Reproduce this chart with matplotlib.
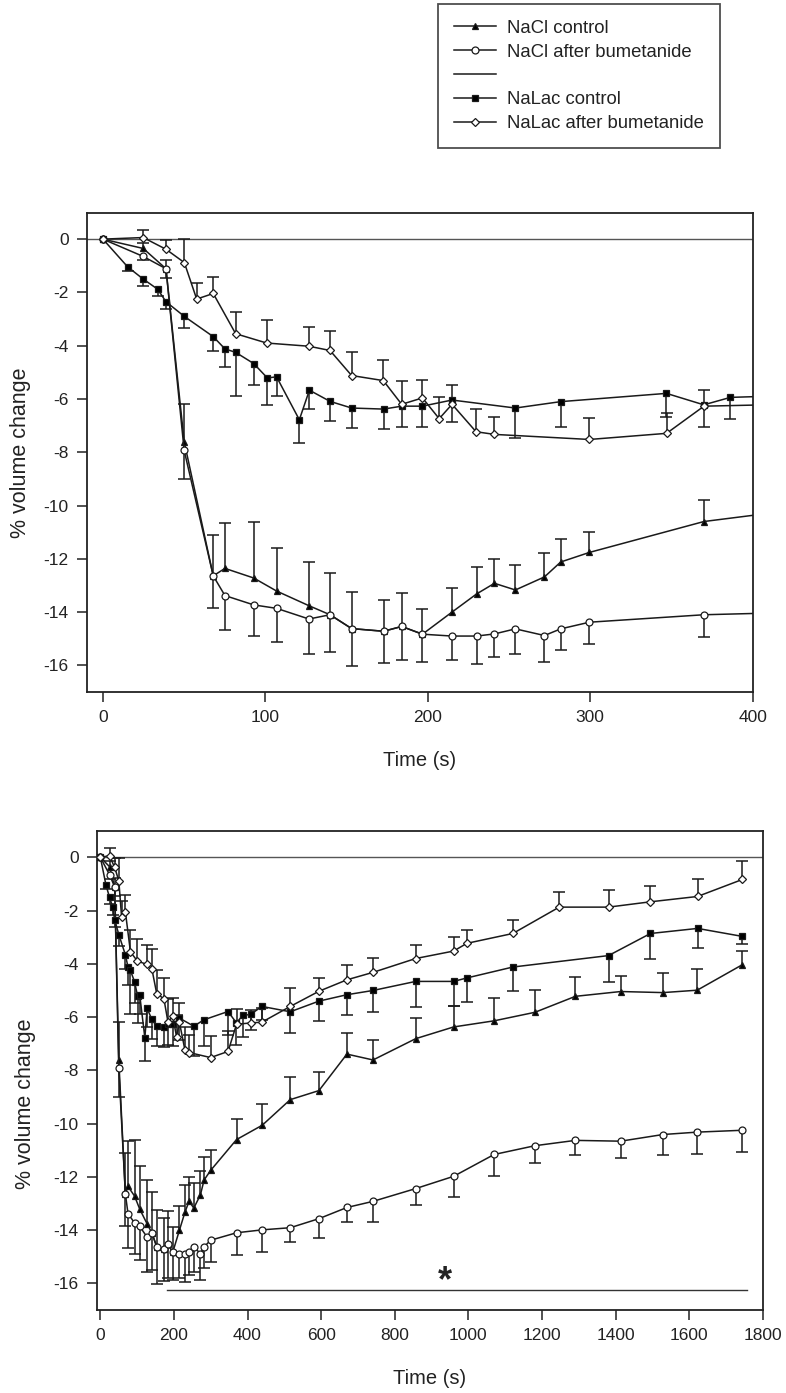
import numpy as np
import matplotlib
matplotlib.use("Agg")
import matplotlib.pyplot as plt
from matplotlib.lines import Line2D

plt.rcParams['font.family'] = ['Liberation Sans', 'DejaVu Sans']

# ---------------- data ----------------
t_nacl = [0, 24.8, 38.8, 50, 67.9, 75.1, 92.8, 106.9, 126.8, 139.8,
          153.1, 172.8, 183.9, 196.7, 214.9, 230, 241, 253.9, 271.8, 281.8,
          299.5, 370, 440, 516, 594, 670, 741, 857, 960, 1070,
          1181, 1291, 1414, 1529, 1622, 1745]
nacl_ctrl = [0, -0.35, -1.11, -7.6, -12.64, -12.36, -12.72, -13.21, -13.76, -14.1,
             -14.62, -14.72, -14.54, -14.83, -14.0, -13.32, -12.92, -13.17, -12.68, -12.12,
             -11.76, -10.6, -10.06, -9.1, -8.76, -7.39, -7.61, -6.81, -6.37, -6.14,
             -5.82, -5.22, -5.04, -5.08, -4.99, -4.03]
nacl_ctrl_err = [0, 0.2, 0.34, 1.42, 1.54, 1.69, 2.11, 1.61, 1.64, 1.55,
                 1.39, 1.19, 1.26, 0.96, 0.9, 1.02, 0.9, 0.94, 0.9, 0.86,
                 0.76, 0.79, 0.81, 0.85, 0.7, 0.78, 0.76, 0.78, 0.78, 0.84,
                 0.83, 0.74, 0.6, 0.74, 0.8, 0.53]
nacl_bum = [0, -0.65, -1.11, -7.93, -12.64, -13.38, -13.73, -13.86, -14.26, -14.1,
            -14.62, -14.72, -14.54, -14.83, -14.9, -14.9, -14.82, -14.63, -14.88, -14.63,
            -14.38, -14.1, -13.99, -13.91, -13.57, -13.15, -12.92, -12.44, -11.98, -11.16,
            -10.83, -10.63, -10.66, -10.41, -10.32, -10.25]
nacl_bum_err = [0, 0.15, 0.34, 1.06, 1.22, 1.31, 1.15, 1.25, 1.3, 1.4,
                1.4, 1.2, 1.25, 1.05, 0.9, 1.05, 0.85, 0.95, 1.0, 0.8,
                0.8, 0.85, 0.84, 0.54, 0.73, 0.56, 0.79, 0.61, 0.79, 0.81,
                0.65, 0.56, 0.65, 0.78, 0.84, 0.81]

t_lac_ctrl = [0, 15.2, 24.8, 33.7, 38.8, 50.1, 67.9, 75.1, 81.7, 92.8,
              101.2, 106.9, 120.9, 127.1, 139.8, 153.1, 172.8, 183.9, 196.7, 214.9,
              253.9, 281.8, 346.9, 369.9, 386.3, 408, 439, 516, 594, 670,
              741, 857, 960, 996, 1121, 1381, 1495, 1623, 1745]
lac_ctrl = [0, -1.04, -1.5, -1.88, -2.35, -2.9, -3.66, -4.12, -4.25, -4.67,
            -5.21, -5.17, -6.78, -5.67, -6.09, -6.34, -6.38, -6.27, -6.27, -6.04,
            -6.34, -6.1, -5.79, -6.22, -5.94, -5.9, -5.6, -5.8, -5.4, -5.16,
            -5.0, -4.66, -4.66, -4.53, -4.12, -3.69, -2.86, -2.67, -2.97]
lac_ctrl_err = [0, 0.16, 0.25, 0.27, 0.27, 0.44, 0.55, 0.67, 1.65, 0.79,
                1.03, 0.73, 0.86, 0.72, 0.75, 0.76, 0.76, 0.79, 0.8, 0.82,
                1.11, 0.97, 0.87, 0.82, 0.8, 0.6, 0.5, 0.8, 0.76, 0.75,
                0.79, 0.95, 0.94, 0.9, 0.89, 0.98, 0.95, 0.74, 0.27]

t_lac_bum = [0, 24.8, 38.8, 50.1, 57.7, 67.9, 81.7, 100.8, 126.8, 139.8,
             153.1, 172.6, 183.9, 196.7, 207, 214.9, 229.7, 241, 299.5, 347,
             370, 408, 439, 516, 594, 670, 741, 857, 960, 996,
             1121, 1247, 1381, 1495, 1623, 1745]
lac_bum = [0, 0.06, -0.38, -0.88, -2.25, -2.04, -3.55, -3.9, -4.02, -4.18,
           -5.12, -5.31, -6.2, -5.96, -6.74, -6.2, -7.23, -7.33, -7.52, -7.29,
           -6.27, -6.22, -6.19, -5.6, -5.03, -4.6, -4.32, -3.8, -3.52, -3.23,
           -2.86, -1.87, -1.87, -1.67, -1.47, -0.83]
lac_bum_err = [0, 0.3, 0.35, 0.87, 0.61, 0.61, 0.81, 0.85, 0.71, 0.75,
               0.89, 0.77, 0.87, 0.69, 0.82, 0.72, 0.84, 0.66, 0.81, 0.75,
               0.59, 0.5, 0.54, 0.7, 0.51, 0.54, 0.53, 0.51, 0.52, 0.5,
               0.51, 0.55, 0.66, 0.61, 0.64, 0.7]

labels = ["NaCl control", "NaCl after bumetanide", "NaLac control", "NaLac after bumetanide"]
y_ticks = [0, -2, -4, -6, -8, -10, -12, -14, -16]
x_ticks_top = [0, 100, 200, 300, 400]
x_ticks_bottom = [0, 200, 400, 600, 800, 1000, 1200, 1400, 1600, 1800]

# significance annotation (bottom panel)
sig_span = (181, 1756)
sig_level = -16.26
star_pos = (937, -15.95)

# series: (t, v, err, direction, marker, facecolor, size)
series = [
    (t_nacl, nacl_ctrl, nacl_ctrl_err, +1, '^', 'black', 5.0),
    (t_nacl, nacl_bum, nacl_bum_err, -1, 'o', 'white', 5.0),
    (t_lac_ctrl, lac_ctrl, lac_ctrl_err, -1, 's', 'black', 4.6),
    (t_lac_bum, lac_bum, lac_bum_err, +1, 'D', 'white', 4.3),
]

W, H = 786, 1393
fig = plt.figure(figsize=(W / 100, H / 100), dpi=100)


def px_axes(l, r, t, b):
    return [l / W, 1 - b / H, (r - l) / W, (b - t) / H]


ax1 = fig.add_axes(px_axes(86.7, 752.7, 212.5, 692))
ax2 = fig.add_axes(px_axes(96.7, 762.7, 830.7, 1310))

LC = '#1a1a1a'


def draw(ax):
    ax.axhline(0, color='#555555', lw=1.0, zorder=1)
    for t, v, e, d, m, fc, ms in series:
        t = np.asarray(t, float)
        v = np.asarray(v, float)
        e = np.asarray(e, float)
        mask = e > 0
        tip = v + d * e
        ax.vlines(t[mask], v[mask], tip[mask], color=LC, lw=1.1, zorder=2)
        ax.plot(t[mask], tip[mask], ls='none', marker='_', ms=9, mew=1.1,
                color=LC, zorder=2)
        ax.plot(t, v, color=LC, lw=1.1, marker=m, ms=ms, mfc=fc, mec=LC,
                mew=0.9, zorder=3)
    ax.set_ylim(-17, 1)
    ax.set_yticks(y_ticks)
    ax.set_yticklabels([str(y) for y in y_ticks])
    ax.tick_params(direction='out', length=7, width=1.1, labelsize=12.5,
                   pad=6, colors='#222222')
    for s in ax.spines.values():
        s.set_linewidth(1.3)
        s.set_color('#222222')
    ax.set_ylabel('% volume change', fontsize=15.5, color='#222222')
    ax.set_xlabel('Time (s)', fontsize=14.5, color='#222222')
    ax.xaxis.label.set_va('center')
    ax.yaxis.label.set_va('center')


draw(ax1)
ax1.set_xlim(-10, 400)
ax1.set_xticks(x_ticks_top)
ax1.yaxis.set_label_coords(-0.1, 0.5)
ax1.xaxis.set_label_coords(0.5, -0.142)

draw(ax2)
ax2.set_xlim(-10, 1800)
ax2.set_xticks(x_ticks_bottom)
ax2.yaxis.set_label_coords(-0.107, 0.43)
ax2.xaxis.set_label_coords(0.5, -0.142)
ax2.plot(sig_span, [sig_level, sig_level], color='#333333', lw=1.0, zorder=2)
ax2.text(star_pos[0], star_pos[1], '*', fontsize=26, fontweight='bold',
         ha='center', va='center', color='#222222')

# legend
handles = []
for (t, v, e, d, m, fc, ms), lab in zip(series, labels):
    handles.append(Line2D([0], [0], color=LC, lw=1.1, marker=m, ms=ms, mfc=fc,
                          mec=LC, mew=0.9, label=lab))
blank = Line2D([0], [0], color=LC, lw=1.1, label=' ')
handles = handles[:2] + [blank] + handles[2:]
leg = fig.legend(handles=handles, loc='upper left',
                 bbox_to_anchor=(438 / W, 1 - 4 / H), bbox_transform=fig.transFigure,
                 fontsize=13.3, frameon=True, fancybox=False, edgecolor='#222222',
                 handlelength=2.3, handletextpad=0.6, borderpad=0.85,
                 labelspacing=0.37, borderaxespad=0)
leg.get_frame().set_linewidth(1.3)
for txt in leg.get_texts():
    txt.set_color('#222222')

fig.savefig('out.png', dpi=100)
